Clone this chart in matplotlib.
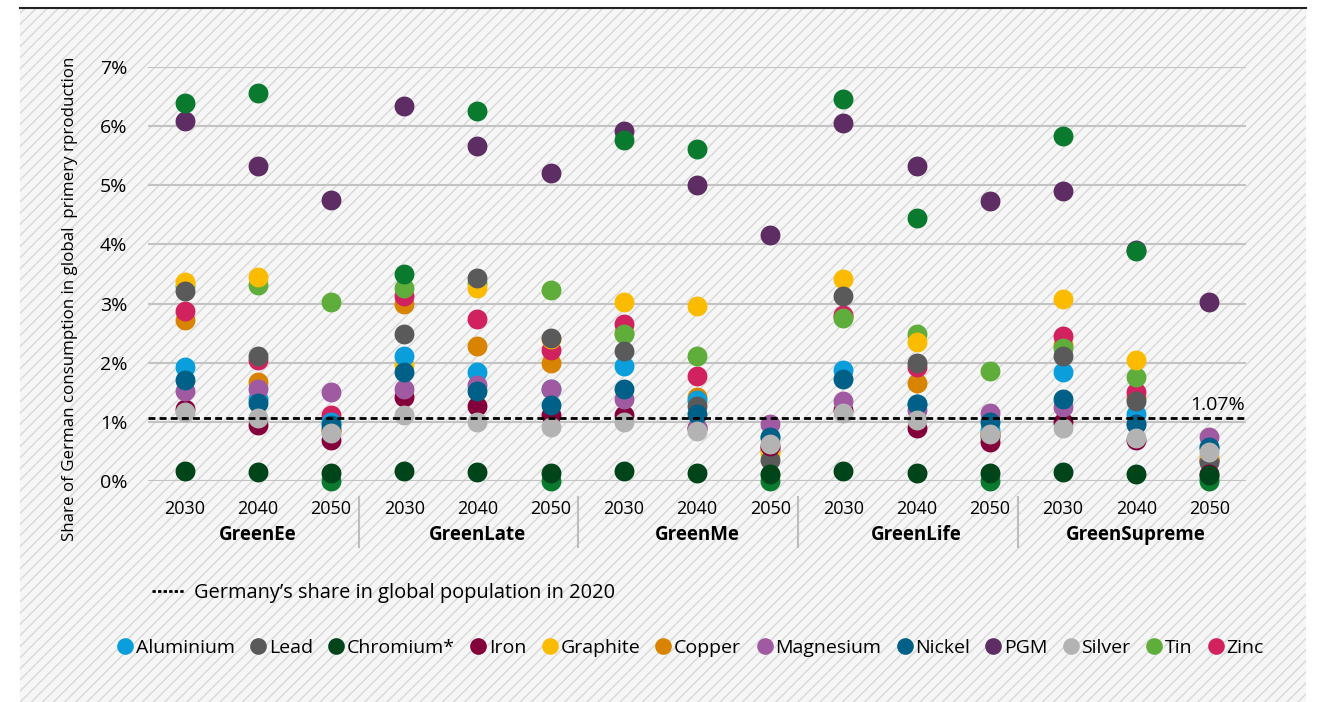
import matplotlib
matplotlib.use("Agg")
import matplotlib.pyplot as plt
from matplotlib.patches import Rectangle
from matplotlib.lines import Line2D
import matplotlib.transforms as mtransforms

plt.rcParams['font.family'] = ['Open Sans', 'DejaVu Sans']

# scenarios and years
scenarios = ['GreenEe', 'GreenLate', 'GreenMe', 'GreenLife', 'GreenSupreme']
years = ['2030', '2040', '2050']

# share of German consumption in global primary production (%)
aluminium = [1.93, 1.39, 1.00, 2.11, 1.85, 1.55, 1.94, 1.37, 0.75, 1.87, 1.30, 0.86, 1.85, 1.14, 0.55]
lead      = [3.21, 2.11, 0.88, 2.48, 3.43, 2.41, 2.20, 1.26, 0.36, 3.13, 2.00, 0.75, 2.11, 1.35, 0.32]
chromium  = [0.17, 0.15, 0.13, 0.17, 0.16, 0.14, 0.17, 0.14, 0.12, 0.17, 0.14, 0.13, 0.16, 0.12, 0.10]
iron      = [1.22, 0.94, 0.70, 1.42, 1.26, 1.11, 1.11, 0.89, 0.60, 1.20, 0.90, 0.66, 1.00, 0.69, 0.12]
graphite  = [3.37, 3.45, 0.85, 1.96, 3.27, 2.40, 3.03, 2.96, 0.45, 3.41, 2.35, 0.80, 3.08, 2.05, 0.40]
copper    = [2.72, 1.68, 0.85, 2.99, 2.28, 1.99, 2.50, 1.42, 0.52, 2.78, 1.66, 0.80, 2.30, 1.40, 0.35]
magnesium = [1.52, 1.55, 1.51, 1.56, 1.62, 1.56, 1.38, 0.89, 0.96, 1.35, 1.20, 1.15, 1.25, 0.97, 0.74]
nickel    = [1.70, 1.32, 0.94, 1.85, 1.52, 1.28, 1.56, 1.14, 0.74, 1.72, 1.31, 1.00, 1.39, 0.97, 0.58]
pgm       = [6.09, 5.33, 4.75, 6.34, 5.67, 5.20, 5.91, 5.01, 4.16, 6.05, 5.32, 4.74, 4.90, 3.91, 3.03]
silver    = [1.17, 1.06, 0.81, 1.11, 0.99, 0.91, 1.00, 0.85, 0.63, 1.15, 1.03, 0.80, 0.89, 0.72, 0.49]
tin       = [3.30, 3.32, 3.03, 3.26, 3.35, 3.23, 2.48, 2.11, 0.10, 2.75, 2.49, 1.86, 2.25, 1.76, 0.05]
zinc      = [2.88, 2.05, 1.11, 3.12, 2.74, 2.21, 2.66, 1.77, 0.55, 2.80, 1.93, 0.80, 2.45, 1.51, 0.35]
# green series shown in the chart but not in the legend
other     = [6.39, 6.56, 0.00, 3.50, 6.25, 0.00, 5.76, 5.62, 0.00, 6.46, 4.44, 0.00, 5.84, 3.89, 0.00]

pop_share = 1.07

colors = {
    'Aluminium': '#0a9fdc', 'Lead': '#5a5a5a', 'Chromium*': '#00441a', 'Iron': '#84003a',
    'Graphite': '#fbbb00', 'Copper': '#d98400', 'Magnesium': '#a05aa2', 'Nickel': '#006088',
    'PGM': '#5e2d63', 'Silver': '#b3b3b3', 'Tin': '#5fad3b', 'Zinc': '#d2215f', 'other': '#0a7a2f',
}

# drawing order (bottom to top)
series = [('Copper', copper), ('Zinc', zinc), ('Tin', tin), ('Graphite', graphite),
          ('Aluminium', aluminium), ('Lead', lead), ('Iron', iron), ('Magnesium', magnesium),
          ('Nickel', nickel), ('Silver', silver), ('PGM', pgm), ('other', other),
          ('Chromium*', chromium)]
legend_order = ['Aluminium', 'Lead', 'Chromium*', 'Iron', 'Graphite', 'Copper', 'Magnesium',
                'Nickel', 'PGM', 'Silver', 'Tin', 'Zinc']

W, H = 1324, 702
fig = plt.figure(figsize=(W / 100, H / 100), dpi=100)
fig.patch.set_facecolor('white')

# hatched background panel
bg = Rectangle((20 / W, 0), (1306 - 20) / W, 1 - 8 / H, transform=fig.transFigure,
               facecolor='#f6f6f6', edgecolor='#d8d8d8', hatch='///', linewidth=0, zorder=-10)
fig.patches.append(bg)
fig.lines.append(Line2D([20 / W, 1306 / W], [1 - 8 / H, 1 - 8 / H], transform=fig.transFigure,
                        color='#222222', lw=1.5))

ax = fig.add_axes([148 / W, 1 - 481 / H, (1246 - 148) / W, (481 - 67) / H])
ax.patch.set_alpha(0)

x = list(range(len(scenarios) * len(years)))
for name, vals in series:
    ax.scatter(x, vals, s=205, color=colors[name], linewidths=0, clip_on=False, zorder=3)

ax.axhline(pop_share, color='black', lw=2, ls=(0, (2.5, 1.5)), zorder=4)
ax.text(14.48, pop_share + 0.07, '1.07%', ha='right', va='bottom', fontsize=14)

ax.set_ylim(0, 7)
ax.set_xlim(-0.5, 14.5)
ax.set_yticks(range(8))
ax.set_yticklabels([f'{i}%' for i in range(8)], fontsize=14)
ax.yaxis.grid(True, color='#c3c3c3', lw=1.5, zorder=0)
ax.set_axisbelow(True)
ax.set_xticks(x)
ax.set_xticklabels(years * len(scenarios), fontsize=13)
ax.tick_params(axis='both', length=0)
ax.tick_params(axis='y', pad=15)
ax.tick_params(axis='x', pad=14)
for s in ax.spines.values():
    s.set_visible(False)

trans = mtransforms.blended_transform_factory(ax.transData, ax.transAxes)
for i, sc in enumerate(scenarios):
    ax.text(3 * i + 1, -54 / 414, sc, transform=trans, ha='center', va='center',
            fontsize=13.5, fontweight='bold')
    if i > 0:
        ax.plot([3 * i - 0.62, 3 * i - 0.62], [-16 / 414, -66 / 414], transform=trans,
                color='#bdbdbd', lw=1.5, clip_on=False)

fig.text(70 / W, 1 - 299 / H, 'Share of German consumption in global  primery rproduction',
         rotation=90, ha='center', va='center', fontsize=12.2)

# legends
dash = Line2D([], [], color='black', lw=2, ls=(0, (1.2, 0.8)))
fig.legend([dash], ['Germany’s share in global population in 2020'], loc='center left',
           bbox_to_anchor=(134 / W, 1 - 593 / H), frameon=False, fontsize=14.4,
           handlelength=1.6, handletextpad=0.5)

handles = [Line2D([], [], marker='o', ls='', color=colors[n], markersize=12, markeredgewidth=0)
           for n in legend_order]
fig.legend(handles, legend_order, loc='center', bbox_to_anchor=(691 / W, 1 - 648 / H),
           ncol=12, frameon=False, fontsize=14, handlelength=0.7, handletextpad=0.2,
           columnspacing=0.85, borderaxespad=0)

fig.savefig('out.png', dpi=100)
